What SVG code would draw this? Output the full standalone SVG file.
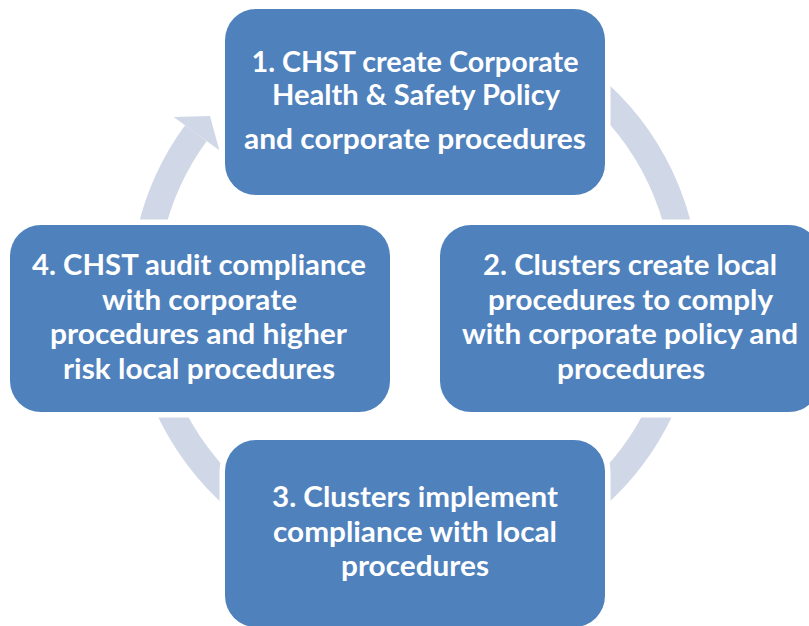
<svg xmlns="http://www.w3.org/2000/svg" width="809" height="626" viewBox="0 0 809 626">
<style>
.box{fill:#4F81BD;stroke:#FFFFFF;stroke-width:11;paint-order:stroke}
.t{font-family:Lato,"Open Sans","Liberation Sans",sans-serif;font-weight:bold;font-size:29px;fill:#FFFFFF;text-anchor:middle}
.ring{fill:none;stroke:#D0D8E8;stroke-width:27}
.head{fill:#D0D8E8}
</style>
<rect width="809" height="626" fill="#FFFFFF"/>
<g id="connectors">
<path class="ring" d="M 507.9 38.4 A 271.5 271.5 0 1 1 195.9 133.15"/>
<polygon class="head" points="173.7,116.9 210,116 219.3,150.3"/>
</g>
<g id="node1">
<rect class="box" x="225" y="9" width="380" height="186" rx="31" ry="31"/>
<text class="t" x="415" y="71.5" textLength="327" lengthAdjust="spacingAndGlyphs">1. CHST create Corporate</text>
<text class="t" x="416" y="104.5" textLength="288" lengthAdjust="spacingAndGlyphs">Health &amp; Safety Policy</text>
<text class="t" x="415" y="149" textLength="342" lengthAdjust="spacingAndGlyphs">and corporate procedures</text>
</g>
<g id="node2">
<rect class="box" x="440" y="225" width="380" height="187" rx="31" ry="31"/>
<text class="t" x="630" y="275" textLength="294" lengthAdjust="spacingAndGlyphs">2. Clusters create local</text>
<text class="t" x="630.5" y="309.5" textLength="285" lengthAdjust="spacingAndGlyphs">procedures to comply</text>
<text class="t" x="630" y="344" textLength="336" lengthAdjust="spacingAndGlyphs">with corporate policy and</text>
<text class="t" x="631" y="378.5" textLength="148" lengthAdjust="spacingAndGlyphs">procedures</text>
</g>
<g id="node3">
<rect class="box" x="225" y="440" width="380" height="187" rx="31" ry="31"/>
<text class="t" x="415" y="507" textLength="286" lengthAdjust="spacingAndGlyphs">3. Clusters implement</text>
<text class="t" x="415" y="541.5" textLength="284" lengthAdjust="spacingAndGlyphs">compliance with local</text>
<text class="t" x="415" y="576" textLength="148" lengthAdjust="spacingAndGlyphs">procedures</text>
</g>
<g id="node4">
<rect class="box" x="10" y="225" width="380" height="187" rx="31" ry="31"/>
<text class="t" x="199" y="275" textLength="334" lengthAdjust="spacingAndGlyphs">4. CHST audit compliance</text>
<text class="t" x="199.5" y="309.5" textLength="195" lengthAdjust="spacingAndGlyphs">with corporate</text>
<text class="t" x="198.5" y="344" textLength="297" lengthAdjust="spacingAndGlyphs">procedures and higher</text>
<text class="t" x="199" y="378.5" textLength="272" lengthAdjust="spacingAndGlyphs">risk local procedures</text>
</g>
</svg>
